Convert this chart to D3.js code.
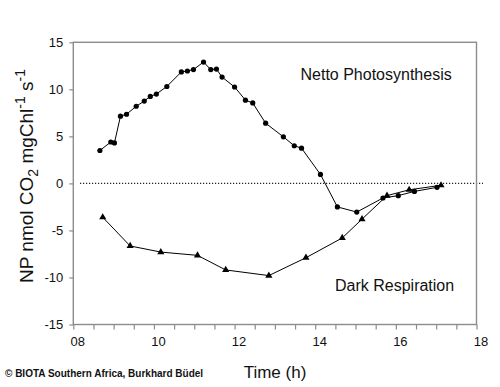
<!DOCTYPE html>
<html><head><meta charset="utf-8">
<script src="https://cdn.jsdelivr.net/npm/d3@7"></script>
<style>
html,body{margin:0;padding:0;background:#fff;}
svg{display:block;font-family:"Liberation Sans",Arial,Helvetica,sans-serif;}
</style></head>
<body>
<svg id="c" width="500" height="387"></svg>
<script>
// Data
const npTime  = [8.66,8.93,9.02,9.17,9.32,9.56,9.76,9.91,10.06,10.32,10.68,10.83,10.98,11.23,11.41,11.55,11.69,12.0,12.27,12.45,12.77,13.21,13.48,13.66,14.13,14.55,15.03,15.68,16.06,16.46,17.02];
const npValue = [3.5,4.4,4.3,7.15,7.35,8.2,8.75,9.25,9.5,10.3,11.85,11.95,12.1,12.9,12.1,12.15,11.3,10.25,8.85,8.55,6.4,4.95,4.0,3.75,0.95,-2.5,-3.05,-1.55,-1.3,-0.85,-0.42];
const drTime  = [8.73,9.41,10.17,11.08,11.78,12.85,13.77,14.67,15.16,15.78,16.33,17.12];
const drValue = [-3.6,-6.65,-7.3,-7.65,-9.2,-9.8,-7.9,-5.8,-3.8,-1.3,-0.68,-0.2];
const xTicks = [8,8.5,9,9.5,10,10.5,11,11.5,12,12.5,13,13.5,14,14.5,15,15.5,16,16.5,17,17.5,18];
const xTickLabels = {8:"08",10:"10",12:"12",14:"14",16:"16",18:"18"};
const yTicks = [-15,-10,-5,0,5,10,15];
const labelNP = "Netto Photosynthesis";
const labelDR = "Dark Respiration";

const svg = d3.select("#c");
const x = d3.scaleLinear().domain([8,18]).range([73.3,476.5]);
const y = d3.scaleLinear().domain([-15,15]).range([324.5,42.3]);
const axisCol = "#8c8c8c";

// zero dotted line
svg.append("line").attr("x1",80).attr("x2",483).attr("y1",y(0)).attr("y2",y(0))
  .attr("stroke","#222").attr("stroke-width",1.3).attr("stroke-dasharray","1.2,1.8");

// x axis
const gx = svg.append("g").attr("transform",`translate(0,${y(-15)})`)
  .call(d3.axisBottom(x).tickValues(xTicks).tickSize(5).tickSizeOuter(0)
    .tickFormat(d => xTickLabels[d] || ""));
gx.select(".domain").remove();
gx.selectAll(".tick line").attr("stroke",axisCol).attr("stroke-width",1.2);
gx.selectAll(".tick text").attr("font-size",13).attr("fill","#111").attr("dx",4).attr("dy","1.05em")
  .attr("font-family","Liberation Sans, Arial, sans-serif");

// y axis
const gy = svg.append("g").attr("transform",`translate(${x(8)},0)`)
  .call(d3.axisLeft(y).tickValues(yTicks).tickSize(4).tickSizeOuter(0).tickPadding(6)
    .tickFormat(d => String(d)));
gy.select(".domain").remove();
gy.selectAll(".tick line").attr("stroke",axisCol).attr("stroke-width",1.2);
gy.selectAll(".tick text").attr("font-size",13).attr("fill","#111")
  .attr("font-family","Liberation Sans, Arial, sans-serif");

// frame
svg.append("rect").attr("x",x(8)).attr("y",y(15)).attr("width",x(18)-x(8)).attr("height",y(-15)-y(15))
  .attr("fill","none").attr("stroke",axisCol).attr("stroke-width",1.4);

const line = d3.line().x(d=>x(d[0])).y(d=>y(d[1]));
const np = npTime.map((t,i)=>[t,npValue[i]]);
const dr = drTime.map((t,i)=>[t,drValue[i]]);

svg.append("path").datum(dr).attr("d",line).attr("fill","none").attr("stroke","#000").attr("stroke-width",1);
svg.append("path").datum(np).attr("d",line).attr("fill","none").attr("stroke","#000").attr("stroke-width",1);

svg.selectAll(".c").data(np).enter().append("circle")
  .attr("cx",d=>x(d[0])).attr("cy",d=>y(d[1])).attr("r",2.6).attr("fill","#000");
const tri = d3.symbol().type(d3.symbolTriangle).size(22);
svg.selectAll(".t").data(dr).enter().append("path")
  .attr("d",tri).attr("transform",d=>`translate(${x(d[0])},${y(d[1])})`).attr("fill","#000");

// annotations
svg.append("text").attr("x",300.5).attr("y",79.5).attr("font-size",16).attr("fill","#111").text(labelNP);
svg.append("text").attr("x",335).attr("y",291).attr("font-size",16).attr("fill","#111").text(labelDR);

// axis titles
svg.append("text").attr("x",275).attr("y",378).attr("text-anchor","middle").attr("font-size",17).attr("fill","#111").text("Time (h)");

const yl = svg.append("text").attr("transform","translate(33,176) rotate(-90)")
  .attr("text-anchor","middle").attr("font-size",19).attr("fill","#111");
yl.append("tspan").text("NP nmol CO");
yl.append("tspan").attr("dy",5).attr("font-size",14).text("2");
yl.append("tspan").attr("dy",-5).text(" mgChl");
yl.append("tspan").attr("dy",-8).attr("font-size",14).text("-1");
yl.append("tspan").attr("dy",8).text(" s");
yl.append("tspan").attr("dy",-8).attr("font-size",14).text("-1");

svg.append("text").attr("x",5).attr("y",377).attr("font-size",10).attr("font-weight","bold")
  .attr("fill","#111").text("\u00A9 BIOTA Southern Africa, Burkhard B\u00FCdel");
</script>
</body></html>
